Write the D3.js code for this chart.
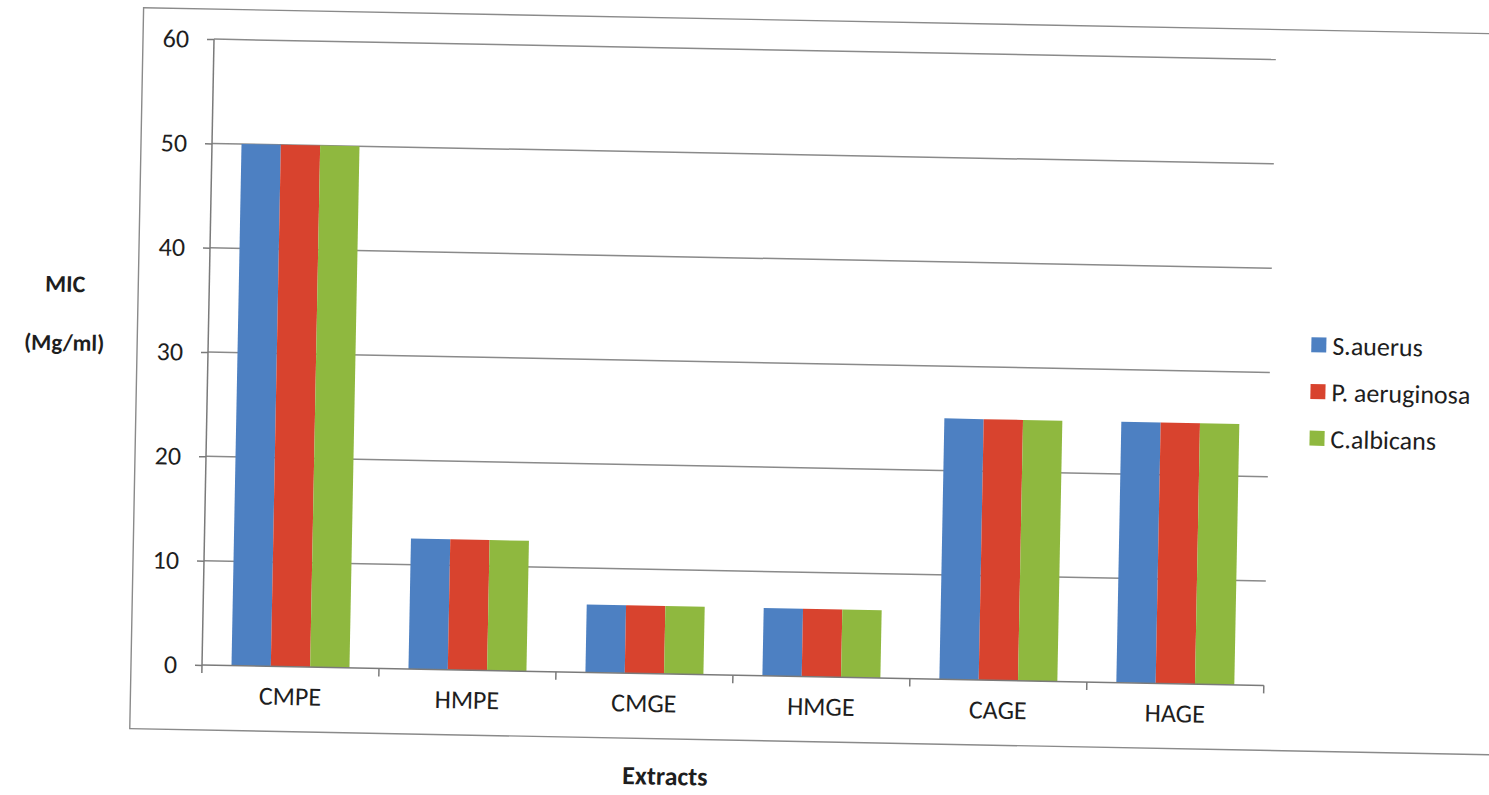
<!DOCTYPE html>
<html>
<head>
<meta charset="utf-8">
<script src="https://cdn.jsdelivr.net/npm/d3@7/dist/d3.min.js"></script>
<style>
  body { margin: 0; background: #fff; }
  svg text { font-family: Carlito, Calibri, Lato, sans-serif; fill: #1e1e1e; }
</style>
</head>
<body>
<svg id="chart" width="1489" height="795"></svg>
<script>
// MIC values (Mg/ml) for each extract against the three test organisms
const categories = ["CMPE", "HMPE", "CMGE", "HMGE", "CAGE", "HAGE"];
const seriesNames = ["S.auerus", "P. aeruginosa", "C.albicans"];
const sAuerus     = [50, 12.5, 6.5, 6.5, 25, 25];
const pAeruginosa = [50, 12.5, 6.5, 6.5, 25, 25];
const cAlbicans   = [50, 12.5, 6.5, 6.5, 25, 25];
const yTicks = [0, 10, 20, 30, 40, 50, 60];
const seriesColors = ["#4d80c2", "#d8432e", "#8fb83f"];

const seriesValues = [sAuerus, pAeruginosa, cAlbicans];
const rows = categories.map((c, i) => ({
  category: c,
  values: seriesNames.map((s, j) => ({ series: s, value: seriesValues[j][i] }))
}));

// plot area
const plotLeft = 202, plotTop = 39, plotW = 1062, plotH = 626;
const svg = d3.select("#chart");

// the whole page sits slightly tilted
const page = svg.append("g")
  .attr("transform", `rotate(1.1, ${plotLeft}, ${plotTop + plotH})`);

// outer chart frame
page.append("rect")
  .attr("x", 131).attr("y", 9)
  .attr("width", 1420).attr("height", 721)
  .attr("fill", "none")
  .attr("stroke", "#8a8a8a")
  .attr("stroke-width", 1.4);

const g = page.append("g").attr("transform", `translate(${plotLeft},${plotTop})`);

const x0 = d3.scaleBand().domain(categories).range([0, plotW]).padding(0);
const x1 = d3.scaleBand().domain(seriesNames).range([0, x0.bandwidth()])
  .paddingInner(0).paddingOuter(0.75);
const y = d3.scaleLinear().domain([0, 60]).range([plotH, 0]);
const color = d3.scaleOrdinal().domain(seriesNames).range(seriesColors);

// horizontal gridlines
g.append("g")
  .selectAll("line")
  .data(yTicks.filter(t => t > 0))
  .join("line")
  .attr("x1", 0).attr("x2", plotW)
  .attr("y1", d => y(d)).attr("y2", d => y(d))
  .attr("stroke", "#8a8a8a")
  .attr("stroke-width", 1.5);

// y axis with outside ticks
const yAxis = g.append("g")
  .call(d3.axisLeft(y).tickValues(yTicks).tickSize(7).tickSizeOuter(0).tickPadding(18));
yAxis.select(".domain").remove();
yAxis.selectAll(".tick line").attr("stroke", "#7a7a7a").attr("stroke-width", 1.5);
yAxis.selectAll(".tick text").style("font-size", "26px").attr("fill", "#1e1e1e");

// bars
g.append("g")
  .selectAll("g")
  .data(rows)
  .join("g")
  .attr("transform", d => `translate(${x0(d.category)},0)`)
  .selectAll("rect")
  .data(d => d.values)
  .join("rect")
  .attr("x", d => x1(d.series))
  .attr("width", x1.bandwidth())
  .attr("y", d => y(d.value))
  .attr("height", d => y(0) - y(d.value))
  .attr("fill", d => color(d.series));

// y axis line (runs a little below zero as the first category tick)
g.append("line")
  .attr("x1", 0).attr("x2", 0)
  .attr("y1", y(60)).attr("y2", y(0) + 8)
  .attr("stroke", "#7a7a7a").attr("stroke-width", 1.5);

// x axis line
g.append("line")
  .attr("x1", 0).attr("x2", plotW)
  .attr("y1", y(0)).attr("y2", y(0))
  .attr("stroke", "#7a7a7a").attr("stroke-width", 1.5);

// category boundary ticks
g.append("g")
  .selectAll("line")
  .data(d3.range(1, categories.length + 1))
  .join("line")
  .attr("x1", i => i * x0.step()).attr("x2", i => i * x0.step())
  .attr("y1", y(0)).attr("y2", y(0) + 8)
  .attr("stroke", "#7a7a7a").attr("stroke-width", 1.5);

// category labels
const xAxis = g.append("g")
  .attr("transform", `translate(0,${plotH})`)
  .call(d3.axisBottom(x0).tickSize(0).tickPadding(20));
xAxis.select(".domain").remove();
xAxis.selectAll(".tick text").style("font-size", "26px").attr("fill", "#1e1e1e");

// axis titles
page.append("text")
  .attr("x", 58).attr("y", 286)
  .attr("text-anchor", "middle").attr("dominant-baseline", "central")
  .style("font-size", "24px").style("font-weight", "bold")
  .text("MIC");
page.append("text")
  .attr("x", 58).attr("y", 345)
  .attr("text-anchor", "middle").attr("dominant-baseline", "central")
  .style("font-size", "23px").style("font-weight", "bold")
  .text("(Mg/ml)");
page.append("text")
  .attr("x", 667).attr("y", 767)
  .attr("text-anchor", "middle").attr("dominant-baseline", "central")
  .style("font-size", "26px").style("font-weight", "bold")
  .text("Extracts");

// legend
const legend = page.append("g").attr("transform", "translate(1305,316)");
const items = legend.selectAll("g")
  .data(seriesNames)
  .join("g")
  .attr("transform", (d, i) => `translate(0,${i * 46.7})`);
items.append("rect")
  .attr("width", 15).attr("height", 15)
  .attr("fill", d => color(d));
items.append("text")
  .attr("x", 21).attr("y", 8)
  .attr("dominant-baseline", "central")
  .style("font-size", "26px")
  .text(d => d);
</script>
</body>
</html>
